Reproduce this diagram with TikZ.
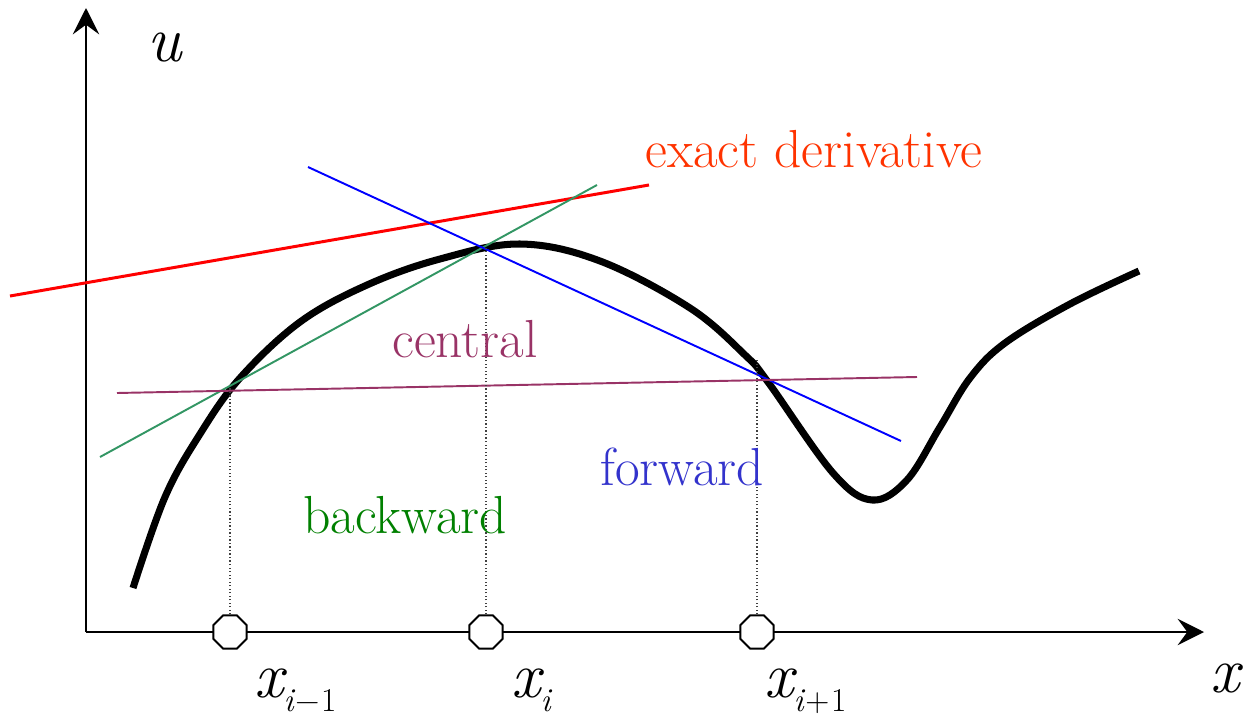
\documentclass[tikz,border=0pt]{standalone}
\usepackage{fontspec}
\usetikzlibrary{arrows.meta,shapes.geometric}
\definecolor{exred}{RGB}{255,51,0}
\definecolor{linered}{RGB}{255,0,0}
\definecolor{bkgreen}{RGB}{51,150,100}
\definecolor{bktext}{RGB}{0,128,0}
\definecolor{fwblue}{RGB}{0,0,255}
\definecolor{fwtext}{RGB}{51,51,204}
\definecolor{cpurple}{RGB}{153,51,102}
\begin{document}
\begin{tikzpicture}[x=0.02cm,y=-0.02cm,
  axis/.style={line width=1.1pt,-{Stealth[length=15pt,width=15pt,inset=5.5pt]}},
  marker/.style={regular polygon,regular polygon sides=8,draw,line width=1.1pt,fill=white,minimum size=0.72cm,inner sep=0pt},
  guide/.style={black!75,line width=0.6pt,dash pattern=on 0.7pt off 1.3pt},
  lbl/.style={font=\fontsize{30.5}{36}\selectfont,anchor=base west,inner sep=0pt},
  axlbl/.style={font=\fontsize{37}{40}\selectfont\itshape,anchor=base west,inner sep=0pt},
  tangent/.style={line width=1.1pt}
]
\useasboundingbox (0,0) rectangle (1245,717);

% axes
\coordinate (O) at (86,632);
\coordinate (Ytip) at (86,8);
\coordinate (Xtip) at (1204,632);
\draw[axis] (O) -- (Ytip);
\draw[axis] (O) -- (Xtip);

% function curve
\draw[line width=4pt,line join=round] plot[smooth,tension=0.6] coordinates {
 (133,588) (165,497) (200,434) (240,378) (300,322) (367,285) (440,259) (520,244)
 (600,261) (690,308) (745,355) (768,382) (833,473) (872,500) (907,480)
 (940,427) (970,378) (1005,343) (1070,304) (1139,271)};

% tangent / secant lines
\coordinate (r1) at (10,296);   \coordinate (r2) at (649,185);
\coordinate (g1) at (100,457);  \coordinate (g2) at (597,185);
\coordinate (b1) at (308,167);  \coordinate (b2) at (901,441);
\coordinate (p1) at (117,393);  \coordinate (p2) at (917,377);
\draw[linered,line width=1.7pt] (r1) -- (r2);
\draw[bkgreen,tangent] (g1) -- (g2);
\draw[fwblue,tangent] (b1) -- (b2);
\draw[cpurple,tangent] (p1) -- (p2);

% grid markers
\node[marker] (m1) at (230,632) {};
\node[marker] (m2) at (486,632) {};
\node[marker] (m3) at (757,632) {};
\coordinate (c1) at (230,388);
\coordinate (c2) at (486,247);
\coordinate (c3) at (757,360);
\draw[guide] (m1.north) -- (c1);
\draw[guide] (m2.north) -- (c2);
\draw[guide] (m3.north) -- (c3);

% labels
\node[lbl,text=exred] (lex) at (645,167) {exact derivative};
\node[lbl,text=cpurple] (lc) at (392,357) {central};
\node[lbl,text=fwtext] (lf) at (600,485) {forward};
\node[lbl,text=bktext] (lb) at (303,533) {backward};

\node[axlbl] (lu) at (147,61) {u};
\node[axlbl] (lx) at (1210,692) {x};
\node[axlbl] (xa) at (254,697) {x\raisebox{-8.5pt}{\fontsize{19}{20}\selectfont\itshape i\kern1pt\upshape−\kern1pt1}};
\node[axlbl] (xb) at (511,697) {x\raisebox{-8.5pt}{\fontsize{19}{20}\selectfont\itshape i}};
\node[axlbl] (xc) at (764,697) {x\raisebox{-8.5pt}{\fontsize{19}{20}\selectfont\itshape i\kern1pt\upshape+\kern1pt1}};
\end{tikzpicture}
\end{document}
